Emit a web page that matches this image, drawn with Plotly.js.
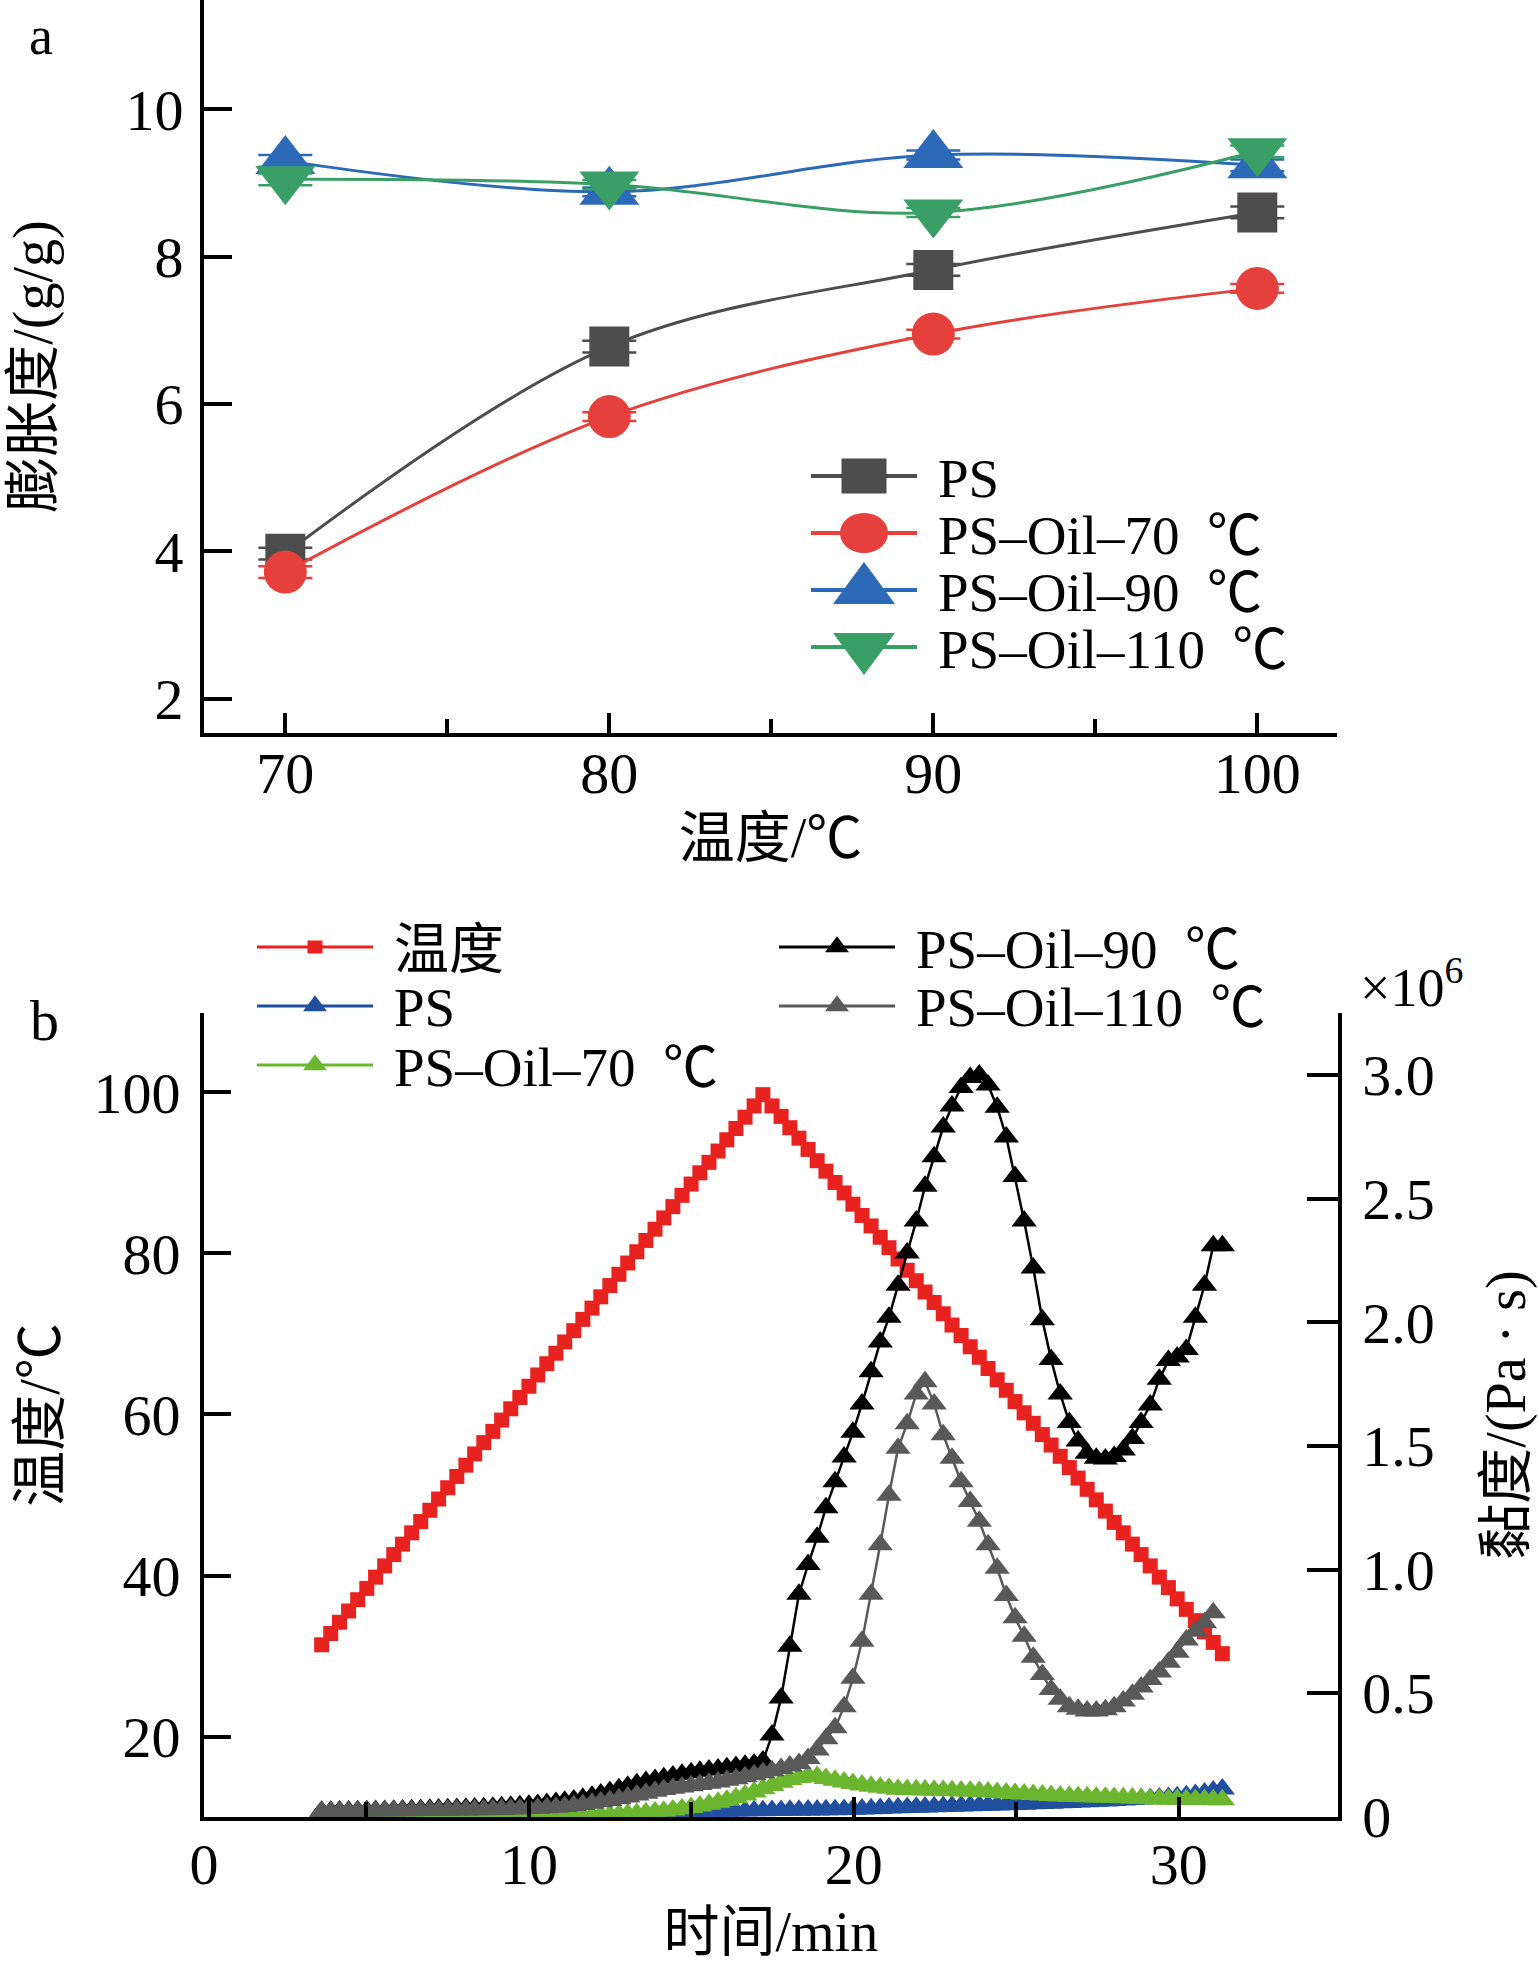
<!DOCTYPE html>
<html>
<head>
<meta charset="utf-8">
<script src="https://cdn.plot.ly/plotly-3.0.1.min.js"></script>
<style>
  html, body { margin: 0; padding: 0; background: #fff; }
  #chart { width: 1538px; height: 1963px; }
</style>
</head>
<body>
<div id="chart"></div>
<script>
// ---- panel a: swelling degree vs temperature ----
const tempA = [70, 80, 90, 100];
const swellPS = [3.97, 6.78, 7.82, 8.60];
const swell70 = [3.72, 5.83, 6.95, 7.57];
const swell90 = [9.30, 8.88, 9.38, 9.24];
const swell110 = [9.05, 8.98, 8.60, 9.43];
const errPS = [0.08, 0.08, 0.08, 0.08];
const err70 = [0.08, 0.06, 0.06, 0.06];
const err90 = [0.08, 0.06, 0.06, 0.08];
const err110 = [0.08, 0.06, 0.06, 0.08];

// ---- panel b: RVA curves (time in min, temperature in C, viscosity in 1e6 Pa.s) ----
const timeB = [
  3.62, 3.90, 4.17, 4.45, 4.73, 5.01, 5.28, 5.56, 5.84, 6.11,
  6.39, 6.67, 6.95, 7.22, 7.50, 7.78, 8.06, 8.33, 8.61, 8.89,
  9.16, 9.44, 9.72, 10.00, 10.27, 10.55, 10.83, 11.10, 11.38, 11.66,
  11.94, 12.21, 12.49, 12.77, 13.04, 13.32, 13.60, 13.88, 14.15, 14.43,
  14.71, 14.99, 15.26, 15.54, 15.82, 16.09, 16.37, 16.65, 16.93, 17.20,
  17.48, 17.76, 18.03, 18.31, 18.59, 18.87, 19.14, 19.42, 19.70, 19.97,
  20.25, 20.53, 20.81, 21.08, 21.36, 21.64, 21.92, 22.19, 22.47, 22.75,
  23.02, 23.30, 23.58, 23.86, 24.13, 24.41, 24.69, 24.96, 25.24, 25.52,
  25.80, 26.07, 26.35, 26.63, 26.90, 27.18, 27.46, 27.74, 28.01, 28.29,
  28.57, 28.84, 29.12, 29.40, 29.68, 29.95, 30.23, 30.51, 30.79, 31.06,
  31.34
];
const tempB = [
  31.4, 32.8, 34.2, 35.6, 37.0, 38.4, 39.8, 41.2, 42.6, 43.9,
  45.3, 46.7, 48.1, 49.5, 50.9, 52.3, 53.7, 55.1, 56.5, 57.9,
  59.3, 60.7, 62.1, 63.5, 64.9, 66.3, 67.6, 69.0, 70.4, 71.8,
  73.2, 74.6, 76.0, 77.4, 78.8, 80.2, 81.6, 83.0, 84.4, 85.8,
  87.2, 88.6, 90.0, 91.3, 92.7, 94.1, 95.5, 96.9, 98.3, 99.7,
  98.3, 97.0, 95.6, 94.3, 92.9, 91.5, 90.2, 88.8, 87.5, 86.1,
  84.7, 83.4, 82.0, 80.7, 79.3, 77.9, 76.6, 75.2, 73.9, 72.5,
  71.1, 69.8, 68.4, 67.1, 65.7, 64.3, 63.0, 61.6, 60.2, 58.9,
  57.5, 56.2, 54.8, 53.4, 52.1, 50.7, 49.4, 48.0, 46.6, 45.3,
  43.9, 42.6, 41.2, 39.8, 38.5, 37.1, 35.8, 34.4, 33.0, 31.7,
  30.3
];
const viscPS = [
  0, 0, 0, 0, 0, 0, 0, 0, 0, 0,
  0, 0, 0, 0, 0, 0, 0, 0, 0, 0,
  0, 0, 0, 0, 0, 0, 0, 0, 0, 0,
  0, 0, 0, 0, 0, 0, 0, 0, 0.002, 0.005,
  0.008, 0.011, 0.014, 0.017, 0.019, 0.021, 0.022, 0.023, 0.024, 0.024,
  0.025, 0.025, 0.026, 0.026, 0.027, 0.027, 0.028, 0.028, 0.029, 0.030,
  0.031, 0.032, 0.033, 0.035, 0.036, 0.037, 0.038, 0.039, 0.040, 0.041,
  0.042, 0.043, 0.044, 0.045, 0.046, 0.047, 0.048, 0.049, 0.050, 0.052,
  0.053, 0.054, 0.056, 0.057, 0.059, 0.060, 0.062, 0.064, 0.066, 0.068,
  0.070, 0.072, 0.074, 0.076, 0.078, 0.081, 0.085, 0.090, 0.096, 0.104,
  0.112
];
const visc70 = [
  0, 0, 0, 0, 0, 0, 0, 0, 0, 0,
  0, 0, 0, 0, 0, 0, 0, 0, 0, 0,
  0, 0, 0, 0, 0, 0, 0, 0, 0, 0,
  0.003, 0.005, 0.007, 0.009, 0.011, 0.013, 0.016, 0.019, 0.022, 0.027,
  0.032, 0.037, 0.043, 0.050, 0.058, 0.067, 0.077, 0.088, 0.100, 0.113,
  0.126, 0.139, 0.150, 0.159, 0.166, 0.163, 0.155, 0.147, 0.140, 0.134,
  0.128, 0.123, 0.119, 0.115, 0.111, 0.110, 0.109, 0.108, 0.107, 0.106,
  0.105, 0.104, 0.103, 0.102, 0.100, 0.098, 0.096, 0.094, 0.092, 0.090,
  0.088, 0.086, 0.084, 0.083, 0.082, 0.081, 0.080, 0.079, 0.078, 0.077,
  0.076, 0.075, 0.073, 0.072, 0.071, 0.071, 0.070, 0.070, 0.070, 0.069,
  0.069
];
const visc90 = [
  0.022, 0.022, 0.023, 0.023, 0.024, 0.024, 0.025, 0.025, 0.026, 0.027,
  0.028, 0.029, 0.030, 0.031, 0.032, 0.033, 0.034, 0.035, 0.036, 0.038,
  0.040, 0.042, 0.044, 0.046, 0.049, 0.053, 0.057, 0.062, 0.068, 0.075,
  0.083, 0.092, 0.102, 0.113, 0.123, 0.133, 0.142, 0.150, 0.158, 0.165,
  0.172, 0.178, 0.184, 0.189, 0.193, 0.198, 0.203, 0.208, 0.213, 0.225,
  0.33, 0.48, 0.69, 0.90, 1.02, 1.13, 1.25, 1.355, 1.455, 1.555,
  1.67, 1.80, 1.92, 2.02, 2.15, 2.28, 2.41, 2.55, 2.67, 2.79,
  2.875, 2.95, 2.99, 3.00, 2.96, 2.87, 2.75, 2.59, 2.41, 2.22,
  2.01, 1.85, 1.71, 1.595, 1.52, 1.47, 1.45, 1.447, 1.457, 1.483,
  1.53, 1.595, 1.665, 1.77, 1.845, 1.86, 1.89, 2.02, 2.15, 2.31,
  2.31
];
const visc110 = [
  0.021, 0.021, 0.021, 0.022, 0.022, 0.022, 0.023, 0.023, 0.023, 0.024,
  0.024, 0.025, 0.025, 0.026, 0.026, 0.027, 0.027, 0.028, 0.028, 0.029,
  0.030, 0.031, 0.032, 0.033, 0.034, 0.036, 0.038, 0.041, 0.045, 0.049,
  0.054, 0.060, 0.066, 0.073, 0.080, 0.088, 0.095, 0.103, 0.110, 0.115,
  0.120, 0.125, 0.130, 0.135, 0.140, 0.147, 0.154, 0.162, 0.170, 0.178,
  0.186, 0.195, 0.205, 0.215, 0.235, 0.270, 0.315, 0.360, 0.445, 0.560,
  0.71, 0.90, 1.10, 1.30, 1.49, 1.59, 1.71, 1.76, 1.67, 1.545,
  1.45, 1.355, 1.275, 1.195, 1.10, 1.005, 0.895, 0.805, 0.73, 0.645,
  0.575, 0.515, 0.475, 0.445, 0.435, 0.428, 0.428, 0.433, 0.445, 0.468,
  0.495, 0.525, 0.555, 0.585, 0.625, 0.665, 0.715, 0.75, 0.785, 0.825,
  null
];
const viscTicks = [0, 0.5, 1.0, 1.5, 2.0, 2.5, 3.0];
const viscTickText = ['0', '0.5', '1.0', '1.5', '2.0', '2.5', '3.0'];

const W = 1538, H = 1963;
const px = x => x / W;
const py = y => 1 - y / H;
const FONT = '"Liberation Serif", "Noto Sans CJK SC", serif';
const SP = '\u2002';

const colA = { ps: '#4d4d4d', o70: '#e5403c', o90: '#2c69b6', o110: '#3a9f66' };
const colB = { temp: '#e8221f', ps: '#1f4f9e', o70: '#6cb52f', o90: '#000000', o110: '#595959' };

function swellTrace(y, err, name, color, symbol, size) {
    return {
        type: 'scatter', mode: 'lines+markers', name: name, x: tempA, y: y, xaxis: 'x', yaxis: 'y',
        line: { color: color, width: 3, shape: 'spline', smoothing: 1 },
        marker: { color: color, symbol: symbol, size: size },
        error_y: { type: 'data', array: err, visible: true, color: color, thickness: 2.5, width: 27 }
    };
}

function rvaTrace(y, name, color, symbol, size, yaxis) {
    return {
        type: 'scatter', mode: 'lines+markers', name: name, x: timeB, y: y, xaxis: 'x2', yaxis: yaxis,
        line: { color: color, width: 2.5 },
        marker: { color: color, symbol: symbol, size: size }
    };
}

const traces = [
    swellTrace(swellPS, errPS, 'PS', colA.ps, 'square', 40),
    swellTrace(swell70, err70, 'PS–Oil–70 ℃', colA.o70, 'circle', 43),
    swellTrace(swell90, err90, 'PS–Oil–90 ℃', colA.o90, 'triangle-up', 52),
    swellTrace(swell110, err110, 'PS–Oil–110 ℃', colA.o110, 'triangle-down', 52),
    rvaTrace(tempB, '温度', colB.temp, 'square', 15, 'y2'),
    rvaTrace(viscPS, 'PS', colB.ps, 'triangle-up', 22, 'y3'),
    rvaTrace(visc70, 'PS–Oil–70 ℃', colB.o70, 'triangle-up', 22, 'y3'),
    rvaTrace(visc90, 'PS–Oil–90 ℃', colB.o90, 'triangle-up', 22, 'y3'),
    rvaTrace(visc110, 'PS–Oil–110 ℃', colB.o110, 'triangle-up', 22, 'y3')
];

// hand-made legends (plotly caps legend marker size at 16px)
const shapes = [];
const annotations = [];

function glyph(kind, cx, cy, w, h, color) {
    const s = { xref: 'paper', yref: 'paper', xsizemode: 'pixel', ysizemode: 'pixel',
        xanchor: px(cx), yanchor: py(cy), fillcolor: color, line: { width: 0 } };
    if (kind === 'square') return Object.assign(s, { type: 'rect', x0: -w / 2, x1: w / 2, y0: -h / 2, y1: h / 2 });
    if (kind === 'circle') return Object.assign(s, { type: 'circle', x0: -w / 2, x1: w / 2, y0: -h / 2, y1: h / 2 });
    if (kind === 'up') return Object.assign(s, { type: 'path', path: 'M' + (-w / 2) + ',' + (-h / 3) + 'L' + (w / 2) + ',' + (-h / 3) + 'L0,' + (2 * h / 3) + 'Z' });
    return Object.assign(s, { type: 'path', path: 'M' + (-w / 2) + ',' + (h / 3) + 'L' + (w / 2) + ',' + (h / 3) + 'L0,' + (-2 * h / 3) + 'Z' });
}

function legendItem(x0, x1, y, color, lw, kind, w, h, label, textX, fsize) {
    shapes.push({ type: 'line', xref: 'paper', yref: 'paper', x0: px(x0), x1: px(x1), y0: py(y), y1: py(y),
        line: { color: color, width: lw } });
    shapes.push(glyph(kind, (x0 + x1) / 2, y, w, h, color));
    annotations.push({ xref: 'paper', yref: 'paper', x: px(textX), y: py(y + 2), xanchor: 'left', yanchor: 'middle',
        text: label, showarrow: false, font: { family: FONT, size: fsize, color: '#000' } });
}

legendItem(811, 917, 476, colA.ps, 4, 'square', 45, 35, 'PS', 936, 55);
legendItem(811, 917, 533, colA.o70, 4, 'circle', 48, 40, 'PS–Oil–70' + SP + '℃', 936, 55);
legendItem(811, 917, 590, colA.o90, 4, 'up', 62, 42, 'PS–Oil–90' + SP + '℃', 936, 55);
legendItem(811, 917, 647, colA.o110, 4, 'down', 62, 42, 'PS–Oil–110' + SP + '℃', 936, 55);

legendItem(257, 373, 947, colB.temp, 3, 'square', 15, 13, '温度', 392, 55);
legendItem(257, 373, 1006, colB.ps, 3, 'up', 24, 16, 'PS', 392, 55);
legendItem(257, 373, 1065, colB.o70, 3, 'up', 24, 16, 'PS–Oil–70' + SP + '℃', 392, 55);
legendItem(779, 895, 947, colB.o90, 3, 'up', 24, 16, 'PS–Oil–90' + SP + '℃', 914, 55);
legendItem(779, 895, 1006, colB.o110, 3, 'up', 24, 16, 'PS–Oil–110' + SP + '℃', 914, 55);

function label(x, y, text, size) {
    annotations.push({ xref: 'paper', yref: 'paper', x: px(x), y: py(y), xanchor: 'center', yanchor: 'middle',
        text: text, showarrow: false, font: { family: FONT, size: size, color: '#000' } });
}
label(41, 36, 'a', 54);
label(44, 1020, 'b', 58);
label(1411, 983, '×10<sup>6</sup>', 54);

const axisBase = {
    showline: true, linecolor: '#000', linewidth: 4, mirror: false,
    ticks: 'inside', tickcolor: '#000', tickwidth: 4,
    showgrid: false, zeroline: false, fixedrange: true,
    tickfont: { family: FONT, size: 58, color: '#000' }
};
const titleFont = { family: FONT, size: 56, color: '#000' };

const layout = {
    width: W, height: H, autosize: false,
    margin: { l: 0, r: 0, t: 0, b: 0, pad: 0 },
    paper_bgcolor: '#fff', plot_bgcolor: 'rgba(0,0,0,0)',
    showlegend: false,
    font: { family: FONT, color: '#000' },
    xaxis: Object.assign({}, axisBase, {
        domain: [px(204), px(1337)], anchor: 'y', range: [67.49, 102.46],
        tickmode: 'linear', tick0: 70, dtick: 10, ticklen: 20, ticklabelstandoff: -14,
        minor: { tick0: 70, dtick: 5, ticks: 'inside', ticklen: 14, tickwidth: 4, tickcolor: '#000' },
        title: { text: '温度/℃', font: titleFont, standoff: 14 }
    }),
    yaxis: Object.assign({}, axisBase, {
        domain: [py(733), 1], anchor: 'x', range: [1.537, 11.483],
        tickmode: 'linear', tick0: 2, dtick: 2, ticklen: 28, ticklabelstandoff: 5,
        title: { text: '膨胀度/(g/g)', font: titleFont, standoff: 56 }
    }),
    xaxis2: Object.assign({}, axisBase, {
        domain: [px(204), px(1337.7)], anchor: 'y2', range: [0, 34.89],
        tickmode: 'linear', tick0: 0, dtick: 10, ticklen: 20, ticklabelstandoff: -6,
        minor: { tick0: 0, dtick: 5, ticks: 'inside', ticklen: 15, tickwidth: 4, tickcolor: '#000' },
        title: { text: '时间/min', font: titleFont, standoff: 48 }
    }),
    yaxis2: Object.assign({}, axisBase, {
        domain: [py(1816.7), py(1013.3)], anchor: 'x2', range: [10.06, 109.8],
        tickmode: 'array', tickvals: [20, 40, 60, 80, 100], ticklen: 27, ticklabelstandoff: 8,
        title: { text: '温度/℃', font: titleFont, standoff: 17 }
    }),
    yaxis3: Object.assign({}, axisBase, {
        overlaying: 'y2', side: 'right', anchor: 'x2', range: [0, 3.25],
        tickmode: 'array', tickvals: viscTicks, ticktext: viscTickText, ticklen: 31, ticklabelstandoff: 9,
        title: { text: '黏度/(Pa · s)', font: titleFont, standoff: 72 }
    }),
    shapes: shapes,
    annotations: annotations
};

Plotly.newPlot('chart', traces, layout, { staticPlot: true, displayModeBar: false });
</script>
</body>
</html>
